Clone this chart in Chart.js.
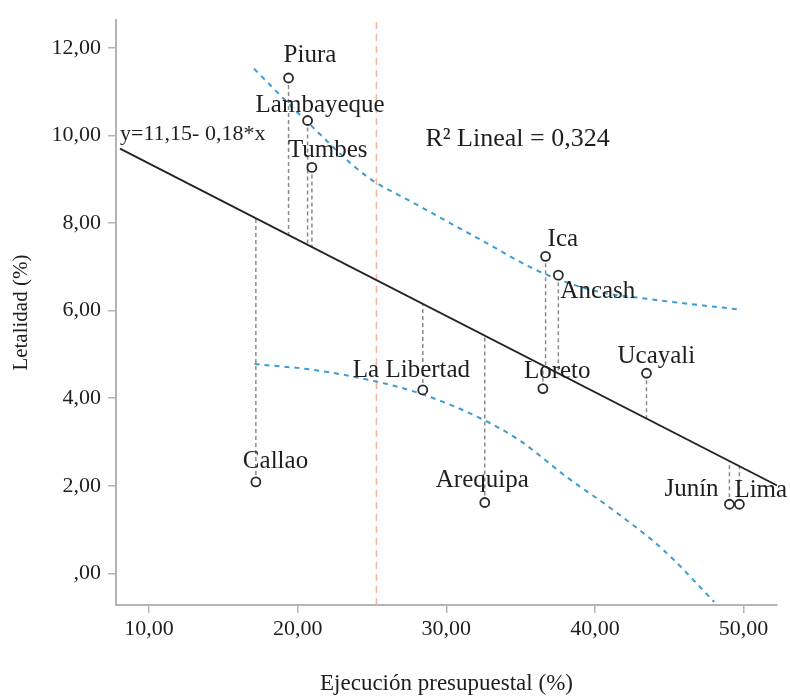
<!DOCTYPE html>
<html>
<head>
<meta charset="utf-8">
<script src="https://cdn.jsdelivr.net/npm/chart.js@4.4.1/dist/chart.umd.min.js"></script>
<style>
  html, body { margin: 0; padding: 0; background: #fff; }
  #wrap { width: 790px; height: 696px; }
</style>
</head>
<body>
<div id="wrap"><canvas id="scatter-chart" width="790" height="696"></canvas></div>
<script>
// datos
var regiones = ["Piura", "Lambayeque", "Tumbes", "Callao", "La Libertad", "Ica", "Ancash", "Loreto", "Ucayali", "Arequipa", "Junín", "Lima"];
var ejecucion = [19.39, 20.67, 20.96, 17.19, 28.42, 36.68, 37.54, 36.50, 43.47, 32.59, 49.05, 49.72];
var letalidad = [11.31, 10.34, 9.27, 2.09, 4.19, 7.24, 6.81, 4.22, 4.57, 1.62, 1.58, 1.58];

// recta de ajuste (como se ve en la figura)
var ajusteIntercepto = 11.10;
var ajustePendiente = -0.174;
var ajusteX = [8.05, 52.25];

// bandas de confianza (lineas azules)
var bandaSupX = [17.07, 20.67, 24.67, 27.8, 32.3, 36.35, 40.0, 43.5, 49.6];
var bandaSupY = [11.52, 10.30, 9.06, 8.46, 7.62, 6.88, 6.45, 6.27, 6.03];
var bandaInfX = [17.1, 21.0, 25.3, 28.4, 32.5, 35.0, 38.15, 41.3, 44.66, 48.03];
var bandaInfY = [4.78, 4.65, 4.38, 4.09, 3.51, 3.02, 2.19, 1.43, 0.52, -0.65];

// linea vertical de referencia
var referenciaX = 25.3;

var ecuacionTexto = "y=11,15- 0,18*x";
var r2Texto = "R² Lineal = 0,324";

var xMin = 7.78, xMax = 52.25, yMin = -0.72, yMax = 12.63;

// desplazamiento de las etiquetas (px) respecto al punto
var etiquetaPos = {
  "Piura": [-5, -16], "Lambayeque": [-52, -9], "Tumbes": [-24, -10], "Callao": [-13, -14],
  "La Libertad": [-70, -13], "Ica": [2, -10], "Ancash": [2, 23], "Loreto": [-19, -11],
  "Ucayali": [-29, -10], "Arequipa": [-49, -15], "Junín": [-65, -8], "Lima": [-5, -7]
};

var serif = "'Liberation Serif', 'DejaVu Serif', serif";
var textColor = "#1e1e1e";

function fmt(v) {
  var s = v.toFixed(2).replace('.', ',');
  if (s.indexOf('0,') === 0) s = s.substring(1);
  return s;
}
function ajuste(x) { return ajusteIntercepto + ajustePendiente * x; }

var puntos = ejecucion.map(function(x, i) { return {x: x, y: letalidad[i]}; });

var datasets = [{
  type: 'scatter',
  data: puntos,
  order: 0,
  pointRadius: 4.5,
  pointBorderWidth: 1.8,
  pointBorderColor: "#2a2a2a",
  pointBackgroundColor: "#fff",
  showLine: false
}, {
  type: 'line',
  data: ajusteX.map(function(x) { return {x: x, y: ajuste(x)}; }),
  order: 1,
  borderColor: "#222",
  borderWidth: 1.8,
  pointRadius: 0
}, {
  type: 'line',
  data: bandaSupX.map(function(x, i) { return {x: x, y: bandaSupY[i]}; }),
  order: 2,
  borderColor: "#3d9dcf",
  borderWidth: 2,
  borderDash: [5, 5],
  cubicInterpolationMode: 'monotone',
  pointRadius: 0
}, {
  type: 'line',
  data: bandaInfX.map(function(x, i) { return {x: x, y: bandaInfY[i]}; }),
  order: 2,
  borderColor: "#3d9dcf",
  borderWidth: 2,
  borderDash: [5, 5],
  cubicInterpolationMode: 'monotone',
  pointRadius: 0
}, {
  type: 'line',
  data: [{x: referenciaX, y: yMin}, {x: referenciaX, y: yMax}],
  order: 3,
  borderColor: "#f1b39c",
  borderWidth: 1.5,
  borderDash: [7, 5],
  pointRadius: 0
}];

// residuos (lineas grises punteadas)
puntos.forEach(function(p) {
  datasets.push({
    type: 'line',
    data: [{x: p.x, y: p.y}, {x: p.x, y: ajuste(p.x)}],
    order: 4,
    borderColor: "#8a8a8a",
    borderWidth: 1.5,
    borderDash: [4, 3],
    pointRadius: 0
  });
});

var etiquetas = {
  id: 'etiquetas',
  afterDatasetsDraw: function(chart) {
    var ctx = chart.ctx;
    var xs = chart.scales.x, ys = chart.scales.y;
    ctx.save();
    ctx.fillStyle = textColor;
    ctx.textBaseline = 'alphabetic';
    ctx.textAlign = 'left';
    ctx.font = "25px " + serif;
    regiones.forEach(function(r, i) {
      var px = xs.getPixelForValue(ejecucion[i]);
      var py = ys.getPixelForValue(letalidad[i]);
      var o = etiquetaPos[r];
      ctx.fillText(r, px + o[0], py + o[1]);
    });
    ctx.font = "22px " + serif;
    ctx.fillText(ecuacionTexto, xs.getPixelForValue(8.05), ys.getPixelForValue(9.9));
    ctx.font = "26px " + serif;
    ctx.fillText(r2Texto, xs.getPixelForValue(28.6), ys.getPixelForValue(9.755));
    ctx.restore();
  }
};

new Chart(document.getElementById("scatter-chart"), {
  type: 'scatter',
  data: { datasets: datasets },
  plugins: [etiquetas],
  options: {
    responsive: false,
    animation: false,
    devicePixelRatio: 1,
    layout: { padding: { left: 0, right: 13, top: 16, bottom: 0 } },
    plugins: { legend: { display: false }, tooltip: { enabled: false } },
    scales: {
      x: {
        type: 'linear',
        min: xMin,
        max: xMax,
        afterFit: function(scale) { scale.height = 91; },
        border: { color: "#b4b4b4", width: 2 },
        grid: { drawOnChartArea: false, drawTicks: true, tickLength: 8, color: "#b4b4b4", lineWidth: 1.5 },
        ticks: {
          stepSize: 10,
          includeBounds: false,
          padding: 3,
          color: textColor,
          font: { family: serif, size: 22 },
          callback: function(v) { return fmt(v); }
        },
        title: {
          display: true,
          text: "Ejecución presupuestal (%)",
          color: textColor,
          font: { family: serif, size: 23 },
          padding: { top: 0, bottom: -2 }
        }
      },
      y: {
        type: 'linear',
        min: yMin,
        max: yMax,
        afterFit: function(scale) { scale.width = 116; },
        border: { color: "#b4b4b4", width: 2 },
        grid: { drawOnChartArea: false, drawTicks: true, tickLength: 8, color: "#b4b4b4", lineWidth: 1.5 },
        ticks: {
          stepSize: 2,
          includeBounds: false,
          padding: 7,
          color: textColor,
          font: { family: serif, size: 22 },
          callback: function(v) { return fmt(v); }
        },
        title: {
          display: true,
          text: "Letalidad (%)",
          color: textColor,
          font: { family: serif, size: 21 },
          padding: { top: 9, bottom: 0 }
        }
      }
    }
  }
});
</script>
</body>
</html>
